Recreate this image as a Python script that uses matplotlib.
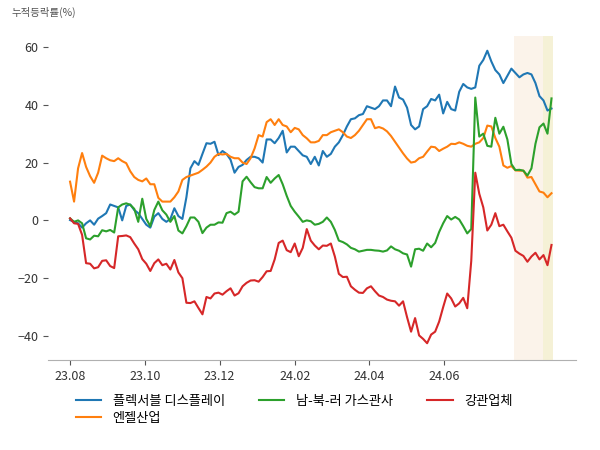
import matplotlib
matplotlib.use("Agg")
import matplotlib.pyplot as plt
import pandas as pd

plt.rcParams['font.family'] = ['Noto Sans CJK KR', 'DejaVu Sans']

start_date = '2023-08-01'
end_date = '2024-08-28'

flexible_display = [
    0.1, -0.5, -1, -2.5, -1, 0, -1.5, 0.6, 1.5, 2.5,
    5.5, 5, 4.5, 0, 5, 5.5, 3.6, 2.5, 0.5, -1.5,
    -2.5, 1.3, 2.5, 0.5, -0.5, 0.5, 4.2, 1.5, 0.5, 8,
    18, 20.5, 19.2, 23, 26.7, 26.5, 27.2, 22.6, 24, 23,
    21, 16.5, 18.5, 19.2, 20.9, 22, 22, 21.5, 20, 28,
    28, 26.7, 28.5, 31, 23.5, 25.5, 25.5, 24, 22.5, 22,
    19.5, 22, 19, 24, 22, 23, 25.5, 27, 29.5, 32.5,
    35, 35.3, 36.4, 36.8, 39.5, 39, 38.5, 39.5, 41.5, 41.5,
    39.5, 46.3, 42.5, 41.8, 39, 33, 31.5, 32.5, 38.5, 39.5,
    42, 41.5, 43.5, 37, 41, 38.5, 38, 44.5, 47.2, 46,
    45.5, 46, 53.5, 55.5, 58.7, 55, 52, 50.5, 47.5, 50,
    52.5, 51, 49.5, 50.5, 51, 50.5, 47.5, 43, 41.5, 38,
    38.7,
]

angel_industry = [
    13.4, 6.5, 18, 23.3, 18.5, 15.3, 13, 16.5, 22.4, 21.5,
    20.8, 20.5, 21.5, 20.5, 19.8, 17, 15, 14, 13.5, 14.5,
    12.5, 12.5, 7.8, 6.5, 6.5, 6.5, 8, 10, 14, 15,
    15.5, 16, 16.5, 17.5, 18.6, 20, 22, 23, 22.8, 23,
    22, 21.5, 21.5, 20, 19.5, 21.5, 24.9, 29.5, 29, 34,
    35, 33, 35, 33, 32.5, 30.5, 32, 31.5, 29.5, 28.4,
    27, 27, 27.5, 29.5, 29.5, 30.5, 31, 31.5, 30.5, 29,
    28.5, 29.5, 31, 33, 35, 35, 31.9, 32.3, 31.8, 30.8,
    29.2, 27.2, 25.2, 23.2, 21.4, 20, 20.3, 21.5, 22, 23.8,
    25.5, 25.3, 24, 24.8, 25.5, 26.5, 26.4, 27, 26.5, 25.8,
    25.5, 26.5, 27, 28.5, 32.8, 32.5, 28.5, 25.5, 19, 18.2,
    18.8, 17.3, 17.2, 17.2, 14.8, 15, 12.5, 10, 9.6, 8,
    9.4,
]

gas_pipeline = [
    0.7, -0.5, 0, -1, -6.2, -6.6, -5.3, -5.5, -3.4, -3.8,
    -3.3, -4.2, 4.5, 5.5, 5.9, 5.4, 4, -0.5, 7.5, 0.5,
    -2, 3.6, 6.5, 3.5, 2, -0.5, 1.5, -3.5, -4.5, -2,
    1, 1, -0.5, -4.4, -2.5, -1.5, -1.5, -0.7, -0.8, 2.5,
    3, 2, 3, 13.5, 15.1, 13.2, 11.5, 11.1, 11.1, 15,
    13, 14.5, 15.7, 12.5, 8.5, 5, 3, 1.3, -0.5, 0,
    -0.3, -1.5, -1.2, -0.5, 1, -0.5, -3.3, -7, -7.5, -8.3,
    -9.5, -10, -10.8, -10.5, -10.2, -10.2, -10.4, -10.5, -10.8, -10.4,
    -9, -10, -10.5, -11.4, -11.8, -16, -10, -9.8, -10.5, -8,
    -9.3, -7.8, -4, -1, 1.5, 0.3, 1.2, 0.3, -2, -4.5,
    -3, 42.5, 29, 30, 25.8, 25.5, 35.5, 30, 32.4, 28,
    19.5, 17.4, 17.5, 17.2, 15.5, 18, 26.5, 32.2, 33.5, 30,
    42.2,
]

steel_pipe = [
    0.7, -1, -1.2, -5, -14.8, -15, -16.6, -16.2, -14, -13.8,
    -15.8, -16.5, -5.5, -5.4, -5.2, -5.8, -8, -10, -13.4, -15,
    -17.5, -14.8, -13.5, -15.5, -15, -17, -13.7, -18, -20, -28.5,
    -28.6, -28, -30.3, -32.5, -26.5, -27, -25.3, -25, -25.7, -24.5,
    -23.5, -26, -25.2, -22.8, -21.6, -20.8, -20.7, -21.2, -19.6, -17.6,
    -17.5, -13.5, -7.8, -7, -10.3, -11, -8, -12.4, -9.5, -3,
    -7, -8.7, -10, -8.7, -8.8, -8, -12.5, -18.5, -19.6, -19.5,
    -22.8, -24, -25, -25.1, -23.5, -22.8, -24.5, -26, -26.5, -27.4,
    -27.8, -28, -29.5, -28, -33.5, -38.5, -33.8, -39.8, -41, -42.5,
    -39.5, -38.5, -35, -30, -25.3, -27, -29.8, -28.7, -26.8, -30.4,
    -14, 16.5, 9.2, 4.5, -3.5, -1.5, 2.5, -2, -1.5, -3.8,
    -6, -10.5, -11.5, -12.3, -14.3, -12.5, -11.2, -13.5, -12, -15.5,
    -8.5,
]

series_names = ['플렉서블 디스플레이', '엔젤산업', '남-북-러 가스관사', '강관업체']
series_colors = ['#1f77b4', '#ff7f0e', '#2ca02c', '#d62728']
tick_dates = ['2023-08-01', '2023-10-01', '2023-12-01', '2024-02-01', '2024-04-01', '2024-06-01']
tick_labels = ['23.08', '23.10', '23.12', '24.02', '24.04', '24.06']
span1 = ('2024-07-28', '2024-08-21')
span2 = ('2024-08-21', '2024-08-29')

dates = pd.date_range(start_date, end_date, periods=len(flexible_display))

fig = plt.figure(figsize=(6, 4.5), dpi=100)
ax = fig.add_axes([0.08, 0.2, 0.88, 0.7207])

ax.axvspan(pd.Timestamp(span1[0]), pd.Timestamp(span1[1]), color='#fbf3ea', lw=0, zorder=0)
ax.axvspan(pd.Timestamp(span2[0]), pd.Timestamp(span2[1]), color='#f5f1d6', lw=0, zorder=0)

for vals, name, col in zip([flexible_display, angel_industry, gas_pipeline, steel_pipe],
                           series_names, series_colors):
    ax.plot(dates, vals, color=col, lw=1.5, label=name)

ax.set_xlim(pd.Timestamp('2023-07-14'), pd.Timestamp('2024-09-17'))
ax.set_ylim(-48.3, 63.9)
ax.set_xticks([pd.Timestamp(d) for d in tick_dates])
ax.set_xticklabels(tick_labels)
ax.set_yticks([-40, -20, 0, 20, 40, 60])

for s in ['top', 'right', 'left']:
    ax.spines[s].set_visible(False)
ax.spines['bottom'].set_color('#b0b0b0')
ax.tick_params(axis='both', labelsize=9, labelcolor='#333333', color='#555555',
               length=3.5, width=0.8)

fig.text(0.02, 0.972, '누적등락률(%)', fontsize=7.5, color='#555555', ha='left', va='center')

ax.legend(ncol=3, loc='upper left', bbox_to_anchor=(0.03, -0.07), frameon=False,
          fontsize=9.5, handlelength=1.9, columnspacing=2.6, labelspacing=0.3,
          handletextpad=0.9)

fig.savefig('out.png', dpi=100)
